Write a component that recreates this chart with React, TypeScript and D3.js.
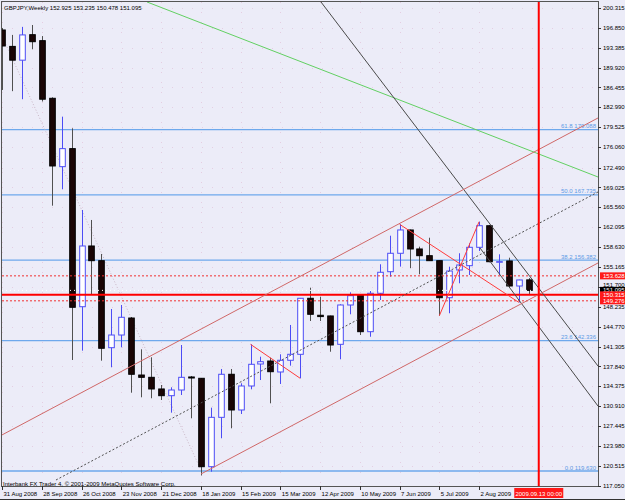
import React, { useEffect, useRef } from 'react'
import * as d3 from 'd3'

// weekly GBPJPY bars, 31 Aug 2008 .. 6 Sep 2009
const opens = [
  196.46, 193.6, 191.2, 195.64, 194.6, 184.56, 172.65, 175.79, 148.25, 158.83,
  156.27, 141.11, 143.32, 146.28, 136.35, 135.95, 133.92, 132.75, 133.74, 136.01,
  135.78, 120.38, 128.98, 136.48, 130.26, 134.44, 138.27, 138.79, 136.88, 138.92,
  139.96, 149.72, 146.76, 146.64, 141.7, 148.55, 150.29, 143.9, 150.59, 154.35,
  157.56, 161.62, 158.31, 157.14, 156.27, 149.82, 154.65, 155.4, 158.6, 162.36,
  156.05, 156.22, 151.86, 152.925,
]
const highs = [
  196.81, 195.6, 197.0, 197.33, 195.4, 184.73, 181.36, 179.33, 165.1, 163.36,
  157.44, 147.85, 148.55, 146.46, 140.83, 139.44, 134.61, 134.21, 141.58, 136.18,
  135.83, 130.66, 137.4, 137.4, 134.91, 141.7, 139.54, 139.37, 139.96, 145.07,
  149.77, 151.56, 149.99, 146.69, 148.67, 150.76, 150.35, 150.99, 155.64, 160.62,
  162.61, 161.7, 158.71, 160.27, 156.3, 155.22, 157.56, 159.3, 163.06, 162.45,
  157.38, 156.79, 152.95, 153.235,
]
const lows = [
  186.01, 185.8, 184.4, 193.1, 184.0, 165.85, 168.71, 138.97, 140.59, 150.29,
  138.85, 137.7, 141.18, 133.27, 132.47, 132.3, 132.0, 129.79, 132.87, 128.81,
  118.85, 119.51, 125.33, 127.07, 129.56, 133.86, 135.48, 131.42, 134.79, 137.98,
  135.78, 145.76, 145.76, 140.41, 139.09, 146.93, 143.32, 143.02, 149.42, 153.48,
  155.24, 154.96, 153.9, 156.22, 146.69, 147.11, 152.33, 153.78, 157.96, 156.0,
  153.78, 151.56, 149.0, 150.478,
]
const closes = [
  193.67, 191.2, 195.6, 194.42, 184.4, 172.77, 175.79, 148.15, 158.83, 156.27,
  141.01, 143.32, 146.41, 136.48, 135.95, 133.92, 132.75, 133.74, 135.95, 135.83,
  120.38, 128.98, 136.48, 130.26, 134.44, 138.22, 138.67, 136.93, 138.92, 139.96,
  149.72, 146.93, 146.53, 141.58, 148.55, 150.17, 143.9, 150.59, 154.25, 157.56,
  161.62, 158.31, 157.14, 156.27, 149.82, 154.47, 155.52, 158.6, 162.36, 156.09,
  156.1, 151.86, 152.91, 151.095,
]

const dateTickBars = [0, 4, 8, 12, 16, 20, 24, 28, 32, 36, 40, 44, 48]
const dateTickLabels = [
  '31 Aug 2008', '28 Sep 2008', '26 Oct 2008', '23 Nov 2008', '21 Dec 2008',
  '18 Jan 2009', '15 Feb 2009', '15 Mar 2009', '12 Apr 2009', '10 May 2009',
  '7 Jun 2009', '5 Jul 2009', '2 Aug 2009',
]
const priceTickLabels = [
  '200.315', '196.850', '193.385', '189.920', '186.455', '182.990', '179.525',
  '176.060', '172.490', '169.025', '165.560', '162.095', '158.630', '155.165',
  '151.700', '148.235', '144.770', '141.305', '137.840', '134.375', '130.910',
  '127.445', '123.980', '120.515', '117.050',
]

const fibLevels = [119.63, 142.336, 156.382, 167.735, 179.088]
const fibNames = ['0.0', '23.6', '38.2', '50.0', '61.8']
const solidLevel = 150.315
const dashedLevels = [153.628, 149.276]
const bidPrice = 151.095
const markerBar = 54
const markerLabel = '2009.09.13 00:00'

// trendlines as [bar, price] pairs
const greenLine = [[14.59, 201.34], [59.96, 170.85]]
const blackLineA = [[32.09, 201.34], [59.96, 137.92]]
const blackLineB = [[48.09, 158.48], [59.96, 130.95]]
const channelUpper = [[-0.2, 125.73], [59.96, 181.13]]
const channelLower = [[20.02, 119.11], [59.96, 155.87]]
const channelMid = [[5.43, 118.06], [59.96, 168.24]]
const fadedLine = [[0, 195.41], [19.92, 120.15]]
const zigzags = [
  [[25, 141.7], [30, 135.78]],
  [[40, 162.61], [52, 149.0]],
  [[44, 146.69], [48, 163.06]],
]

export default function App(): React.ReactElement {
  const chartRef = useRef<HTMLDivElement>(null)

  useEffect(() => {
    const width = 625
    const height = 500
    const left = 2
    const right = 598
    const top = 2
    const bottom = 486
    const font = '"Liberation Sans", Arial, sans-serif'

    const x = d3.scaleLinear().domain([0, 54]).range([2, 2 + 54 * 9.94])
    const y = d3.scaleLinear().domain([119.63, 179.088]).range([471, 129.7])

    d3.select(chartRef.current).select('svg').remove()

    const svg = d3
      .select(chartRef.current)
      .append('svg')
      .attr('width', width)
      .attr('height', height)
      .attr('viewBox', `0 0 ${width} ${height}`)
      .style('display', 'block')

    svg.append('rect').attr('width', width).attr('height', height).attr('fill', '#ECECF8')

    svg
      .append('defs')
      .append('clipPath')
      .attr('id', 'plot')
      .append('rect')
      .attr('x', left)
      .attr('y', top)
      .attr('width', right - left)
      .attr('height', bottom - top)

    const plot = svg.append('g').attr('clip-path', 'url(#plot)')

    // dotted grid, very faint like the terminal's
    const grid = plot
      .append('g')
      .attr('stroke', '#E4C6DC')
      .attr('stroke-dasharray', '1,9')
      .attr('opacity', 0.8)
    grid
      .selectAll('line.h')
      .data(priceTickLabels)
      .join('line')
      .attr('x1', left)
      .attr('x2', right)
      .attr('y1', (d) => Math.round(y(+d)) + 0.5)
      .attr('y2', (d) => Math.round(y(+d)) + 0.5)
    grid
      .selectAll('line.v')
      .data(dateTickBars)
      .join('line')
      .attr('x1', (d) => Math.round(x(d)) + 0.5)
      .attr('x2', (d) => Math.round(x(d)) + 0.5)
      .attr('y1', top)
      .attr('y2', bottom)

    // fibonacci levels (background)
    plot
      .append('g')
      .attr('stroke', '#6EA8EC')
      .attr('stroke-width', 1.3)
      .selectAll('line')
      .data(fibLevels)
      .join('line')
      .attr('x1', left)
      .attr('x2', right)
      .attr('y1', (d) => y(d))
      .attr('y2', (d) => y(d))
    plot
      .append('g')
      .attr('fill', '#5C9BE6')
      .attr('font-family', font)
      .attr('font-size', 6)
      .attr('text-anchor', 'end')
      .selectAll('text')
      .data(fibLevels)
      .join('text')
      .attr('x', right - 2)
      .attr('y', (d) => y(d) - 1.5)
      .text((d, i) => `${fibNames[i]} ${d.toFixed(3)}`)

    const line = d3
      .line<number[]>()
      .x((d) => x(d[0]))
      .y((d) => y(d[1]))

    plot
      .append('path')
      .attr('d', line(fadedLine as number[][]))
      .attr('fill', 'none')
      .attr('stroke', '#C9B6C6')
      .attr('stroke-dasharray', '1,2')

    // candles
    const bars = d3.range(opens.length)
    const bw = 5.6
    const candles = plot
      .append('g')
      .selectAll('g')
      .data(bars)
      .join('g')
    candles
      .append('line')
      .attr('x1', (i) => Math.round(x(i)) + 0.5)
      .attr('x2', (i) => Math.round(x(i)) + 0.5)
      .attr('y1', (i) => y(highs[i]))
      .attr('y2', (i) => y(lows[i]))
      .attr('stroke', (i) => (closes[i] >= opens[i] ? '#4C4CF5' : '#505050'))
    candles
      .append('rect')
      .attr('x', (i) => Math.round(x(i)) + 0.5 - bw / 2)
      .attr('width', bw)
      .attr('y', (i) => y(Math.max(opens[i], closes[i])))
      .attr('height', (i) => Math.max(0.6, Math.abs(y(opens[i]) - y(closes[i]))))
      .attr('fill', (i) => (closes[i] >= opens[i] ? '#FFFFFF' : '#1A0505'))
      .attr('stroke', (i) => (closes[i] >= opens[i] ? '#4C4CF5' : '#000000'))

    // horizontal levels
    plot
      .append('line')
      .attr('x1', left)
      .attr('x2', right)
      .attr('y1', y(bidPrice))
      .attr('y2', y(bidPrice))
      .attr('stroke', '#FFFFFF')
      .attr('stroke-dasharray', '1,3')
    plot
      .append('g')
      .attr('stroke', '#F03030')
      .attr('stroke-dasharray', '2,2')
      .selectAll('line')
      .data(dashedLevels)
      .join('line')
      .attr('x1', left)
      .attr('x2', right)
      .attr('y1', (d) => y(d))
      .attr('y2', (d) => y(d))
    plot
      .append('line')
      .attr('x1', left)
      .attr('x2', right)
      .attr('y1', y(solidLevel))
      .attr('y2', y(solidLevel))
      .attr('stroke', '#FF0000')
      .attr('stroke-width', 2)

    // trendlines
    const trend = (pts: number[][], color: string, dash?: string) =>
      plot
        .append('path')
        .attr('d', line(pts))
        .attr('fill', 'none')
        .attr('stroke', color)
        .attr('stroke-dasharray', dash ?? null)
    trend(greenLine, '#62D062')
    trend(blackLineA, '#4A4A4A')
    trend(blackLineB, '#4A4A4A')
    trend(channelUpper, '#D06868')
    trend(channelLower, '#D06868')
    trend(channelMid, '#505050', '2,2')
    zigzags.forEach((z) => trend(z, '#FF3B3B'))

    // current period marker
    plot
      .append('line')
      .attr('x1', x(markerBar))
      .attr('x2', x(markerBar))
      .attr('y1', top)
      .attr('y2', bottom)
      .attr('stroke', '#FF0000')
      .attr('stroke-width', 2)

    // frame
    svg
      .append('rect')
      .attr('x', 1.5)
      .attr('y', 1.5)
      .attr('width', right - 1)
      .attr('height', bottom - 1)
      .attr('fill', 'none')
      .attr('stroke', '#555')
    svg
      .append('line')
      .attr('x1', 0)
      .attr('x2', width)
      .attr('y1', 499.5)
      .attr('y2', 499.5)
      .attr('stroke', '#333')

    // price axis
    const pAxis = svg.append('g').attr('font-family', font).attr('font-size', 6)
    pAxis
      .selectAll('line')
      .data(priceTickLabels)
      .join('line')
      .attr('x1', right)
      .attr('x2', right + 3)
      .attr('y1', (d) => Math.round(y(+d)) + 0.5)
      .attr('y2', (d) => Math.round(y(+d)) + 0.5)
      .attr('stroke', '#333')
    pAxis
      .selectAll('text')
      .data(priceTickLabels)
      .join('text')
      .attr('x', right + 5)
      .attr('y', (d) => y(+d) - (d === '151.700' ? 2 : 0))
      .attr('dy', '0.35em')
      .attr('fill', '#000')
      .text((d) => d)

    const tags = [
      { v: dashedLevels[0], bg: '#FF1A1A' },
      { v: bidPrice, bg: '#000000' },
      { v: solidLevel, bg: '#FF1A1A' },
      { v: dashedLevels[1], bg: '#FF1A1A' },
    ]
    const tag = svg.append('g').attr('font-family', font).attr('font-size', 6)
    tags.forEach((t) => {
      tag
        .append('rect')
        .attr('x', right + 2)
        .attr('y', y(t.v) - 3.5)
        .attr('width', width - right - 2)
        .attr('height', 7)
        .attr('fill', t.bg)
      tag
        .append('text')
        .attr('x', right + 5)
        .attr('y', y(t.v))
        .attr('dy', '0.35em')
        .attr('fill', '#fff')
        .text(t.v.toFixed(3))
    })

    // time axis
    const tAxis = svg.append('g').attr('font-family', font).attr('font-size', 6)
    tAxis
      .selectAll('line')
      .data(dateTickBars)
      .join('line')
      .attr('x1', (d) => Math.round(x(d)) + 0.5)
      .attr('x2', (d) => Math.round(x(d)) + 0.5)
      .attr('y1', bottom)
      .attr('y2', bottom + 4)
      .attr('stroke', '#333')
    tAxis
      .selectAll('text')
      .data(dateTickBars)
      .join('text')
      .attr('x', (d) => x(d) + 1.5)
      .attr('y', 495.5)
      .attr('fill', '#000')
      .text((d, i) => dateTickLabels[i])
    tAxis
      .append('rect')
      .attr('x', x(markerBar) - 24.5)
      .attr('y', 488)
      .attr('width', 49)
      .attr('height', 10)
      .attr('fill', '#FF1A1A')
    tAxis
      .append('text')
      .attr('x', x(markerBar))
      .attr('y', 495.5)
      .attr('text-anchor', 'middle')
      .attr('fill', '#fff')
      .text(markerLabel)

    // captions
    svg
      .append('text')
      .attr('x', 4)
      .attr('y', 9.5)
      .attr('font-family', font)
      .attr('font-size', 6)
      .attr('fill', '#000')
      .text(`GBPJPY,Weekly  ${opens[53].toFixed(3)} ${highs[53].toFixed(3)} ${lows[53].toFixed(3)} ${closes[53].toFixed(3)}`)
    svg
      .append('text')
      .attr('x', 3)
      .attr('y', 485.5)
      .attr('font-family', font)
      .attr('font-size', 6)
      .attr('fill', '#000')
      .text('Interbank FX Trader 4, © 2001-2009 MetaQuotes Software Corp.')
  }, [])

  return <div ref={chartRef} style={{ position: 'absolute', left: 0, top: 0 }}></div>
}
